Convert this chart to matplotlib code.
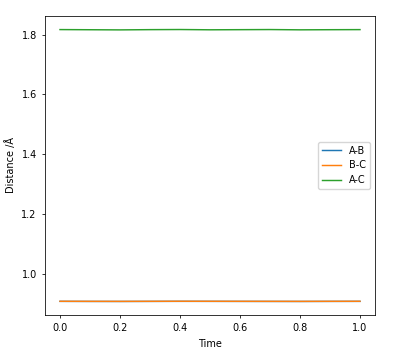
import numpy as np
from matplotlib import pyplot as plt

# data
time = [0.0, 0.1, 0.2, 0.3, 0.4, 0.5, 0.6, 0.7, 0.8, 0.9, 1.0]
ab = [0.9075, 0.9073, 0.9072, 0.9074, 0.9076, 0.9075, 0.9074, 0.9073, 0.9072, 0.9074, 0.9075]
bc = [0.9078, 0.9076, 0.9075, 0.9077, 0.9079, 0.9078, 0.9077, 0.9076, 0.9075, 0.9077, 0.9078]
ac = [1.8170, 1.8165, 1.8160, 1.8168, 1.8172, 1.8163, 1.8167, 1.8171, 1.8162, 1.8166, 1.8169]

s = 0.7
plt.rcParams['font.size'] = 10 * s
plt.rcParams['axes.linewidth'] = 0.8 * s
plt.rcParams['xtick.major.size'] = 3.5 * s
plt.rcParams['ytick.major.size'] = 3.5 * s
plt.rcParams['xtick.major.width'] = 0.8 * s
plt.rcParams['ytick.major.width'] = 0.8 * s
plt.rcParams['lines.linewidth'] = 1.5 * s

fig = plt.figure(figsize=(4.0, 3.54), dpi=100)
ax = fig.add_axes([0.1125, 0.11, 0.825, 0.845])
ax.plot(time, ab, label='A-B')
ax.plot(time, bc, label='B-C')
ax.plot(time, ac, label='A-C')
ax.set_xlabel('Time')
ax.set_ylabel('Distance /Å')
ax.legend(loc='center right')
fig.savefig('out.png', dpi=100)
